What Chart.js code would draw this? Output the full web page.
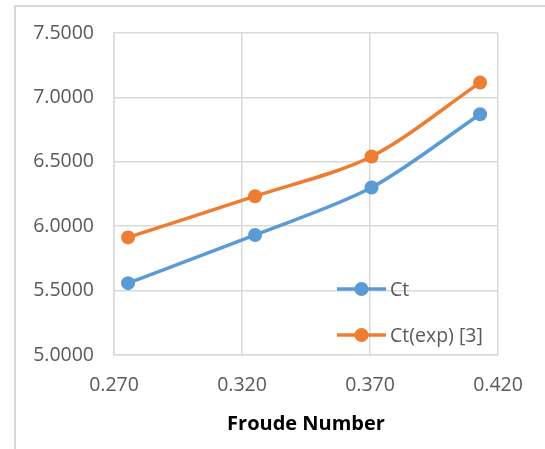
<!DOCTYPE html>
<html>
<head>
<meta charset="utf-8">
<script src="https://cdn.jsdelivr.net/npm/chart.js@4.4.0/dist/chart.umd.min.js"></script>
<style>
  html, body { margin: 0; padding: 0; background: #fff; }
  #wrap { position: relative; width: 545px; height: 449px; overflow: hidden; }
  #frame { position: absolute; left: 14px; top: 5px; width: 540px; height: 460px;
           border-left: 2px solid #d9d9d9; border-top: 2px solid #d9d9d9; }
  canvas { position: absolute; left: 0; top: 0; }
</style>
</head>
<body>
<div id="wrap">
  <div id="frame"></div>
  <canvas id="graph1" width="545" height="449"></canvas>
</div>
<script>
// donnees
let froude = [0.2755, 0.3251, 0.3706, 0.4130];
let ct = [5.558, 5.932, 6.300, 6.869];
let ctExp = [5.913, 6.233, 6.541, 7.115];
let seriesNames = ["Ct", "Ct(exp) [3]"];
let xTicks = [0.270, 0.320, 0.370, 0.420];
let yTicks = [5.0, 5.5, 6.0, 6.5, 7.0, 7.5];

let colors = ["#5B9BD5", "#ED7D31"];
let font = "'Open Sans', 'DejaVu Sans', sans-serif";

const toPoints = (xs, ys) => xs.map((x, i) => ({x: x, y: ys[i]}));

let datagraph = [ct, ctExp].map((serie, k) => ({
    label: seriesNames[k],
    data: toPoints(froude, serie),
    borderColor: colors[k],
    backgroundColor: colors[k],
    borderWidth: 3.5,
    pointRadius: 7,
    pointBorderWidth: 0,
    showLine: true,
    tension: 0.3,
    fill: false
}));

// legende dans la zone du graphe (en bas a droite)
const insideLegend = {
    id: "insideLegend",
    afterDatasetsDraw(chart) {
        const c = chart.ctx;
        const a = chart.chartArea;
        const rows = [a.bottom - 66, a.bottom - 20];
        c.save();
        datagraph.forEach((ds, i) => {
            const y = rows[i];
            const x0 = a.right - 161, x1 = a.right - 112;
            c.strokeStyle = ds.borderColor;
            c.lineWidth = 3.5;
            c.beginPath(); c.moveTo(x0, y); c.lineTo(x1, y); c.stroke();
            c.fillStyle = ds.borderColor;
            c.beginPath(); c.arc((x0 + x1) / 2, y, 7, 0, Math.PI * 2); c.fill();
            c.fillStyle = "#595959";
            c.font = "19.5px " + font;
            c.textBaseline = "middle";
            c.textAlign = "left";
            c.fillText(ds.label, x1 + 4, y + 1);
        });
        c.restore();
    }
};

let ctx = document.getElementById("graph1").getContext("2d");
let chart = new Chart(ctx, {
    type: "scatter",
    data: { datasets: datagraph },
    options: {
        responsive: false,
        animation: false,
        layout: { padding: { top: 33, right: 47, left: 0, bottom: 0 } },
        plugins: { legend: { display: false }, tooltip: { enabled: false } },
        scales: {
            x: {
                type: "linear",
                min: xTicks[0],
                max: xTicks[xTicks.length - 1],
                afterBuildTicks: (s) => { s.ticks = xTicks.map(v => ({value: v})); },
                afterFit: (s) => { s.height = 94; },
                grid: { color: "#d9d9d9", lineWidth: 1.5, drawTicks: false },
                border: { color: "#d9d9d9", width: 1.5 },
                ticks: {
                    padding: 19,
                    color: "#595959",
                    font: { family: font, size: 19.5 },
                    callback: (v) => Number(v).toFixed(3)
                },
                title: {
                    display: true,
                    text: "Froude Number",
                    color: "#000",
                    font: { family: font, size: 20, weight: "bold" },
                    padding: { top: 0, bottom: 13 }
                }
            },
            y: {
                min: yTicks[0],
                max: yTicks[yTicks.length - 1],
                afterBuildTicks: (s) => { s.ticks = yTicks.map(v => ({value: v})); },
                afterFit: (s) => { s.width = 114; },
                grid: { color: "#d9d9d9", lineWidth: 1.5, drawTicks: false },
                border: { color: "#d9d9d9", width: 1.5 },
                ticks: {
                    padding: 20,
                    color: "#595959",
                    font: { family: font, size: 19.5 },
                    callback: (v) => Number(v).toFixed(4)
                }
            }
        }
    },
    plugins: [insideLegend]
});
</script>
</body>
</html>
